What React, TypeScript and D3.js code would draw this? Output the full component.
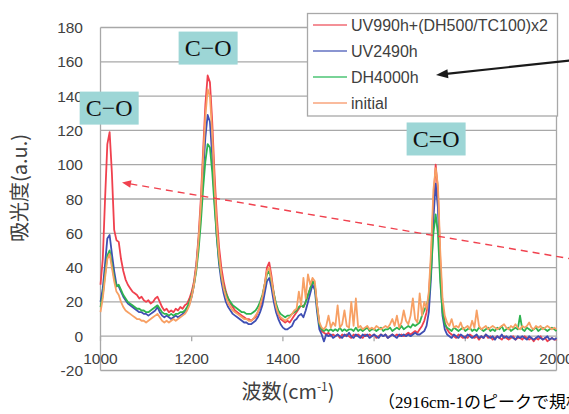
import React from 'react';
import * as d3 from 'd3';

// wavenumber sampling grid (cm-1), one value every 5 cm-1
const WAVENUMBERS: number[] = d3.range(1000, 2001, 5);

const RED: number[] = [
  30,45,80,112,119,95,62,56,55,45,38,33,30,28,26,25,24,22,23,21,
  20,21,19,20,22,23,20,17,15,16,14,15,14,16,15,17,16,18,19,22,
  26,32,42,58,80,108,135,152,148,125,95,70,52,40,32,26,22,19,17,15,
  14,13,12,11,10,10,9,10,11,14,17,22,30,40,43,35,25,18,13,10,
  9,8,9,8,10,12,14,16,18,17,20,24,28,32,30,18,7,3,2,1,
  2,0,1,0,1,-1,1,0,1,0,-1,1,0,1,0,-1,1,0,1,0,
  1,-1,0,1,0,1,-1,0,1,0,1,0,1,0,1,2,1,2,3,2,
  4,6,9,14,24,45,78,100,85,45,18,8,4,2,1,0,-1,1,0,-1,
  0,-1,1,0,-1,0,-2,0,-1,1,-1,0,-2,-1,0,-1,-2,0,-1,-2,
  -1,0,-2,-1,-1,-2,0,-1,-2,-1,-3,-1,-2,0,-2,-1,-3,-2,-1,-2,
  -2,
];

const BLUE: number[] = [
  20,28,42,57,59,48,38,30,29,26,23,21,19,18,17,16,15,14,14,13,
  13,12,13,14,15,17,14,12,11,12,11,10,11,12,11,12,13,14,16,19,
  23,30,40,55,72,95,116,129,125,105,80,58,42,32,25,20,17,15,13,12,
  11,10,9,8,8,7,7,8,9,11,14,18,25,32,34,28,20,14,10,7,
  5,4,4,5,6,9,10,12,13,11,15,20,25,30,27,14,4,1,-3,1,
  0,1,-1,0,1,0,-1,1,0,2,0,-1,1,0,-1,1,0,1,-1,0,
  1,0,-1,1,0,1,-1,0,1,0,-1,1,0,1,0,1,0,1,2,1,
  1,2,3,6,14,35,68,89,75,38,12,4,1,0,-1,1,0,-1,1,0,
  -1,1,0,-1,0,1,-1,0,-1,1,0,-1,0,-2,0,-1,1,-1,0,-1,
  0,-1,-2,0,-1,0,-1,-2,0,-1,-2,-1,0,-1,-2,-1,0,-2,-1,-2,
  -1,
];

const GREEN: number[] = [
  17,24,36,47,50,42,34,29,30,27,24,22,20,19,18,17,16,16,15,15,
  14,14,15,16,17,18,16,14,13,13,12,13,12,13,13,14,14,15,17,20,
  24,30,38,50,66,86,102,112,110,96,76,58,44,35,29,25,22,20,18,17,
  16,15,14,14,13,13,13,14,15,17,20,24,30,36,38,32,25,19,15,13,
  12,11,12,12,13,14,15,17,18,17,20,24,28,32,30,17,7,4,3,4,
  3,4,3,4,3,5,3,4,3,4,4,3,5,3,4,3,4,5,3,4,
  4,3,4,5,3,4,4,5,3,4,5,4,6,4,5,6,5,7,6,7,
  8,12,15,18,22,38,60,71,60,32,14,7,5,4,3,5,4,3,4,5,
  3,4,5,3,4,3,5,4,3,4,5,3,4,3,5,4,6,3,4,5,
  3,4,5,4,12,4,3,5,4,3,4,5,3,4,5,4,3,4,5,4,
  3,
];

const ORANGE: number[] = [
  14,22,34,45,48,40,32,26,24,20,17,15,14,13,12,11,10,10,9,9,
  8,9,10,11,12,13,11,9,8,9,8,9,10,9,10,11,12,13,15,18,
  23,30,40,56,76,103,128,144,140,118,88,64,47,36,28,23,19,17,15,14,
  13,12,11,10,10,9,9,10,12,14,18,23,30,38,40,33,24,17,13,11,
  10,9,10,11,13,15,16,26,18,34,22,36,30,34,32,18,8,5,4,6,
  12,5,8,6,18,5,7,15,6,5,20,6,22,5,6,4,5,6,4,5,
  4,6,5,4,5,6,5,7,10,6,12,5,8,15,9,7,12,22,10,8,
  25,12,20,16,26,50,85,98,88,50,22,12,8,6,10,5,6,5,8,4,
  5,6,4,9,5,15,6,4,5,6,4,5,6,5,4,5,6,7,5,4,
  6,5,7,5,4,6,5,6,8,5,4,6,5,6,4,5,6,5,4,5,
  4,
];

const SERIES_NAMES = ['UV990h+(DH500/TC100)x2', 'UV2490h', 'DH4000h', 'initial'];
const SERIES_VALUES = [RED, BLUE, GREEN, ORANGE];
const SERIES_COLORS = ['#F0414E', '#3F4FB3', '#2DB34F', '#F7A064'];
const LEGEND_COLORS = ['#F06B75', '#6372C2', '#4CC474', '#F9A47C'];

const Y_TICKS = [-20, 0, 20, 40, 60, 80, 100, 120, 140, 160, 180];
const X_TICKS = [1000, 1200, 1400, 1600, 1800, 2000];

const ANNOTATIONS = [
  { label: 'C\u2212O', wn: 1019, v: 133 },
  { label: 'C\u2212O', wn: 1236, v: 168 },
  { label: 'C=O', wn: 1736, v: 115 },
];

const W = 569;
const H = 414;

function arrowHead(x1: number, y1: number, x2: number, y2: number, len: number, half: number) {
  const dx = x2 - x1, dy = y2 - y1;
  const L = Math.hypot(dx, dy);
  const ux = dx / L, uy = dy / L;
  const bx = x2 - ux * len, by = y2 - uy * len;
  const px = -uy, py = ux;
  return `M${x2},${y2}L${bx + px * half},${by + py * half}L${bx - px * half},${by - py * half}Z`;
}

export default function App() {
  const x = d3.scaleLinear().domain([1000, 2000]).range([100.5, 556.5]);
  const y = d3.scaleLinear().domain([-20, 180]).range([370.5, 27.5]);
  const [x0, x1] = x.range();
  const line = (vals: number[]) =>
    d3.line<number>().x((_, i) => x(WAVENUMBERS[i])).y((d) => y(d))(vals) || '';

  const gridColor = '#A8A8A8';
  const textColor = '#404040';
  const sans = '"Liberation Sans", Arial, "Noto Sans CJK JP", sans-serif';
  const cjk = '"Noto Sans CJK JP", "Liberation Sans", sans-serif';
  const serif = '"Liberation Serif", "Times New Roman", "Noto Sans CJK JP", serif';

  // black arrow & red dashed arrow endpoints (annotation pointers)
  const ba = { x1: 575, y1: 60, x2: 436, y2: 75 };
  const ra = { x1: 575, y1: 259.5, x2: 122, y2: 182.5 };

  return (
    <svg width={W} height={H} style={{ position: 'fixed', left: 0, top: 0, background: '#fff' }}>
      <rect x={0} y={0} width={W} height={H} fill="#fff" />
      {/* gridlines */}
      {Y_TICKS.map((t) => (
        <line key={t} x1={x0} x2={x1} y1={y(t)} y2={y(t)} stroke={gridColor} strokeWidth={1.3} />
      ))}
      <line x1={x0} x2={x0} y1={y(180)} y2={y(-20)} stroke={gridColor} strokeWidth={1.3} />
      <line x1={x1} x2={x1} y1={y(180)} y2={y(-20)} stroke={gridColor} strokeWidth={1.3} />
      {/* x ticks on zero line */}
      {X_TICKS.map((t) => (
        <line key={t} x1={x(t)} x2={x(t)} y1={y(0)} y2={y(0) + 5} stroke={gridColor} strokeWidth={1.3} />
      ))}
      {/* y tick labels */}
      {Y_TICKS.map((t) => (
        <text key={t} x={83} y={y(t)} dy="0.36em" textAnchor="end" fontSize={15.5} fill={textColor} fontFamily={sans}>
          {t}
        </text>
      ))}
      {/* x tick labels */}
      {X_TICKS.map((t) => (
        <text key={t} x={x(t)} y={358} dy="0.36em" textAnchor="middle" fontSize={15.5} fill={textColor} fontFamily={sans}>
          {t}
        </text>
      ))}
      {/* series */}
      {SERIES_VALUES.map((vals, i) => (
        <path key={i} d={line(vals)} fill="none" stroke={SERIES_COLORS[i]} strokeWidth={1.8} strokeLinejoin="round" />
      ))}
      {/* axis titles */}
      <text transform="translate(27,188) rotate(-90)" textAnchor="middle" fontSize={20} fill={textColor} fontFamily={cjk}>
        吸光度(a.u.)
      </text>
      <text x={288} y={399} textAnchor="middle" fontSize={20} fill={textColor} fontFamily={cjk}>
        波数(cm<tspan fontSize={12} dy={-8}>-1</tspan><tspan dy={8}>)</tspan>
      </text>
      <text x={378} y={408} fontSize={17} fill="#000" fontFamily={serif}>
        （2916cm-1のピークで規格化）
      </text>
      {/* legend */}
      <rect x={307.5} y={13.5} width={250} height={102.5} fill="#fff" stroke={gridColor} strokeWidth={1.3} />
      {SERIES_NAMES.map((n, i) => (
        <g key={n} transform={`translate(0,${25 + i * 26})`}>
          <line x1={313} x2={347} y1={0} y2={0} stroke={LEGEND_COLORS[i]} strokeWidth={1.6} />
          <text x={351} y={0} dy="0.36em" fontSize={16} fill={textColor} fontFamily={sans}>
            {n}
          </text>
        </g>
      ))}
      {/* annotation boxes */}
      {ANNOTATIONS.map((a, i) => (
        <g key={i} transform={`translate(${x(a.wn)},${y(a.v)})`}>
          <rect x={-29.5} y={-16.5} width={59} height={33} fill="#9DD6D6" />
          <text x={0} y={0} dy="0.34em" textAnchor="middle" fontSize={24} fill="#111" fontFamily={serif}>
            {a.label}
          </text>
        </g>
      ))}
      {/* pointer arrows */}
      <line x1={ba.x1} y1={ba.y1} x2={ba.x2 + 8} y2={ba.y2 - 0.9} stroke="#1a1a1a" strokeWidth={2.2} />
      <path d={arrowHead(ba.x1, ba.y1, ba.x2, ba.y2, 12, 4.5)} fill="#1a1a1a" />
      <line x1={ra.x1} y1={ra.y1} x2={ra.x2 + 6} y2={ra.y2 + 1} stroke="#F0414E" strokeWidth={1.4} strokeDasharray="7,5" />
      <path d={arrowHead(ra.x1, ra.y1, ra.x2, ra.y2, 9, 3.8)} fill="#F0414E" />
    </svg>
  );
}
